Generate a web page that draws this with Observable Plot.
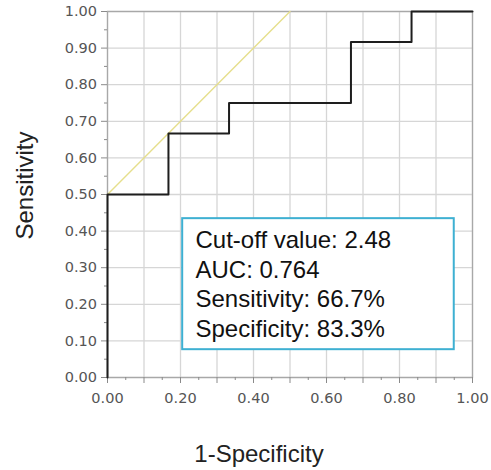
<!DOCTYPE html>
<html>
<head>
<meta charset="utf-8">
<script src="https://cdn.jsdelivr.net/npm/d3@7"></script>
<script src="https://cdn.jsdelivr.net/npm/@observablehq/plot@0.6"></script>
<style>
  html, body { margin: 0; padding: 0; background: #fff; }
</style>
</head>
<body>
<div id="chart"></div>
<script>
// ROC curve corner points (step-after)
const fpr = [0, 0, 0.167, 0.333, 0.667, 0.833, 1];
const tpr = [0, 0.5, 0.667, 0.75, 0.917, 1, 1];
// Tangent (yellow) reference line
const refX = [0, 0.5];
const refY = [0.5, 1];
// Tick values
const xLabelTicks = [0, 0.2, 0.4, 0.6, 0.8, 1.0];
const majorTicks = [0, 0.1, 0.2, 0.3, 0.4, 0.5, 0.6, 0.7, 0.8, 0.9, 1.0];
const minorTicks = [0.05, 0.15, 0.25, 0.35, 0.45, 0.55, 0.65, 0.75, 0.85, 0.95];
// Annotation box
const boxLines = ["Cut-off value: 2.48", "AUC: 0.764", "Sensitivity: 66.7%", "Specificity: 83.3%"];
const boxExtent = {x1: 0.206, x2: 0.950, y1: 0.076, y2: 0.434};
const boxTextX = 0.241;
const boxTextTop = 0.354;
const boxLineStep = 0.081;
// Labels
const xTitle = "1-Specificity";
const yTitle = "Sensitivity";

const roc = fpr.map((x, i) => ({x, y: tpr[i]}));
const ref = refX.map((x, i) => ({x, y: refY[i]}));
const lines = boxLines.map((t, i) => ({t, x: boxTextX, y: boxTextTop - i * boxLineStep}));

const textFont = "'Liberation Sans', Arial, sans-serif";
const tickColor = "#8a8a8a";

const chart = Plot.plot({
  width: 491,
  height: 470,
  marginLeft: 107,
  marginRight: 19,
  marginTop: 11,
  marginBottom: 93,
  style: {fontFamily: "'DejaVu Sans', Tahoma, sans-serif", fontSize: "14.5px", color: "#555", background: "#fff"},
  x: {domain: [0, 1]},
  y: {domain: [0, 1]},
  marks: [
    Plot.gridX(majorTicks, {stroke: "#d6d6d6", strokeOpacity: 1, strokeWidth: 1.3}),
    Plot.gridY(majorTicks, {stroke: "#d6d6d6", strokeOpacity: 1, strokeWidth: 1.3}),
    Plot.frame({stroke: "#a8a8a8", strokeWidth: 1.3}),
    // y axis
    Plot.axisY(majorTicks, {tickSize: 6, tickPadding: 4.5, tickFormat: d3.format(".2f"), label: null, stroke: tickColor, fill: "#555"}),
    Plot.axisY(minorTicks, {tickSize: 3, tickFormat: () => "", label: null, stroke: tickColor}),
    // x axis
    Plot.axisX(xLabelTicks, {tickSize: 6, tickPadding: 9.5, tickFormat: d3.format(".2f"), label: null, stroke: tickColor, fill: "#555"}),
    Plot.axisX(majorTicks, {tickSize: 6, tickFormat: () => "", label: null, stroke: tickColor}),
    Plot.axisX(minorTicks, {tickSize: 3, tickFormat: () => "", label: null, stroke: tickColor}),
    // reference line
    Plot.line(ref, {x: "x", y: "y", stroke: "#e6df8c", strokeWidth: 1.4}),
    // ROC curve
    Plot.line(roc, {x: "x", y: "y", curve: "step-after", stroke: "#1e1e1e", strokeWidth: 2}),
    // annotation box
    Plot.rect([boxExtent], {x1: "x1", x2: "x2", y1: "y1", y2: "y2", fill: "white", stroke: "#3eb0d2", strokeWidth: 2}),
    Plot.text(lines, {x: "x", y: "y", text: "t", textAnchor: "start", lineAnchor: "bottom", fontSize: 24, fill: "#111", fontFamily: textFont}),
    // axis titles
    Plot.text([xTitle], {frameAnchor: "bottom", dx: -31, dy: 84, lineAnchor: "bottom", fontSize: 24, fill: "#222", fontFamily: textFont}),
    Plot.text([yTitle], {frameAnchor: "left", dx: -82, dy: -9, rotate: -90, lineAnchor: "middle", textAnchor: "middle", fontSize: 24, fill: "#222", fontFamily: textFont})
  ]
});
document.getElementById("chart").appendChild(chart);
</script>
</body>
</html>
